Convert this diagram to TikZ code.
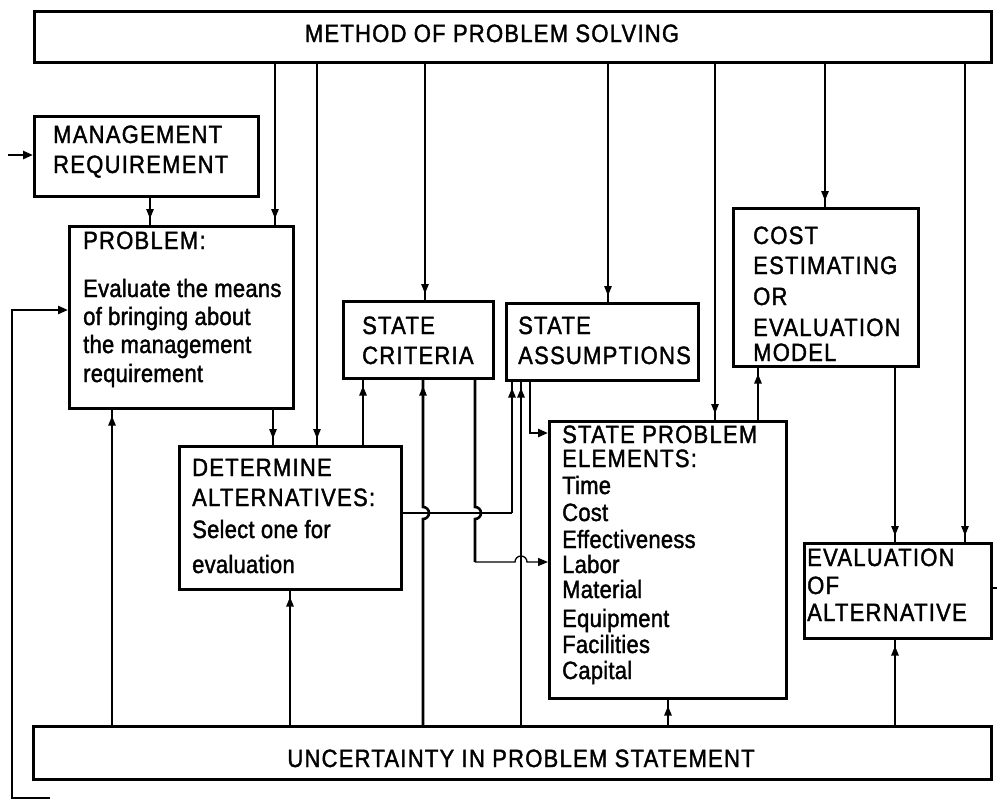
\documentclass[tikz,border=0pt]{standalone}
\usepackage{fontspec}
\setmainfont{Liberation Sans}[FakeStretch=0.88,LetterSpace=1,FakeBold=1.5]
\newfontfamily\capf{Liberation Sans}[FakeStretch=0.88,LetterSpace=5,FakeBold=1.5]
\usetikzlibrary{arrows.meta,decorations.markings,calc}
\tikzset{
  box/.style={draw, line width=2.6pt, inner sep=0pt, anchor=north west},
  lbl/.style={inner sep=0pt, anchor=base west, font=\fontsize{25}{28}\selectfont},
  capstxt/.style={inner sep=0pt, anchor=base west, font=\capf\fontsize{25}{28}\selectfont},
  ctrtxt/.style={inner sep=0pt, anchor=base, font=\capf\fontsize{25}{28}\selectfont},
  conn/.style={line width=2.6pt},
  thinconn/.style={line width=1.3pt},
  tip/.style={-{Triangle[length=10pt,width=8pt]}},
  nearend/.style={postaction={decorate},decoration={markings,mark=at position -6pt with {\arrow{Triangle[length=10pt,width=7pt]}}}},
}
\begin{document}
\begin{tikzpicture}[x=1pt,y=-1pt]
\useasboundingbox (0,0) rectangle (997,801);
% boxes
\node[box, minimum width=957pt, minimum height=51pt] (top) at (33,10) {};
\node[box, minimum width=224pt, minimum height=80pt] (mr) at (33,115) {};
\node[box, minimum width=224pt, minimum height=182pt] (prob) at (68,225) {};
\node[box, minimum width=150pt, minimum height=77pt] (crit) at (342,300) {};
\node[box, minimum width=192pt, minimum height=77pt] (assum) at (505,302) {};
\node[box, minimum width=185pt, minimum height=158pt] (cost) at (732,207) {};
\node[box, minimum width=222pt, minimum height=143pt] (da) at (178,445) {};
\node[box, minimum width=237pt, minimum height=277pt] (spe) at (548,420) {};
\node[box, minimum width=187pt, minimum height=95pt] (eval) at (803,542) {};
\node[box, minimum width=958pt, minimum height=53pt] (unc) at (32,725) {};
% texts
\node[ctrtxt] (toptxt) at (492,42) {METHOD OF PROBLEM SOLVING};
\node[ctrtxt] (unctxt) at (521,767) {UNCERTAINTY IN PROBLEM STATEMENT};
\node[capstxt] (mr1) at (53,143) {MANAGEMENT};
\node[capstxt] (mr2) at (53,173) {REQUIREMENT};
\node[capstxt] (pr1) at (83,249) {PROBLEM:};
\node[lbl] (pr2) at (83,297) {Evaluate the means};
\node[lbl] (pr3) at (83,325) {of bringing about};
\node[lbl] (pr4) at (83,353) {the management};
\node[lbl] (pr5) at (83,382) {requirement};
\node[capstxt] (cr1) at (362,334) {STATE};
\node[capstxt] (cr2) at (362,364) {CRITERIA};
\node[capstxt] (as1) at (518,334) {STATE};
\node[capstxt] (as2) at (518,364) {ASSUMPTIONS};
\node[capstxt] (co1) at (753,244) {COST};
\node[capstxt] (co2) at (753,274) {ESTIMATING};
\node[capstxt] (co3) at (753,305) {OR};
\node[capstxt] (co4) at (753,336) {EVALUATION};
\node[capstxt] (co5) at (753,361) {MODEL};
\node[capstxt] (da1) at (192,476) {DETERMINE};
\node[capstxt] (da2) at (192,506) {ALTERNATIVES:};
\node[lbl] (da3) at (192,538) {Select one for};
\node[lbl] (da4) at (192,573) {evaluation};
\node[capstxt] (sp1) at (562,443) {STATE PROBLEM};
\node[capstxt] (sp2) at (562,467) {ELEMENTS:};
\node[lbl] (sp3) at (562,494) {Time};
\node[lbl] (sp4) at (562,521) {Cost};
\node[lbl] (sp5) at (562,548) {Effectiveness};
\node[lbl] (sp6) at (562,573) {Labor};
\node[lbl] (sp7) at (562,598) {Material};
\node[lbl] (sp8) at (562,627) {Equipment};
\node[lbl] (sp9) at (562,653) {Facilities};
\node[lbl] (sp10) at (562,679) {Capital};
\node[capstxt] (ev1) at (807,566) {EVALUATION};
\node[capstxt] (ev2) at (807,594) {OF};
\node[capstxt] (ev3) at (807,621) {ALTERNATIVE};
% connectors from method box
\draw[conn,nearend] (275,0 |- top.south) -- (275,0 |- prob.north);
\draw[conn,nearend] (317,0 |- top.south) -- (317,0 |- da.north);
\draw[conn,nearend] (425,0 |- top.south) -- (425,0 |- crit.north);
\draw[conn,nearend] (608,0 |- top.south) -- (608,0 |- assum.north);
\draw[conn,nearend] (715,0 |- top.south) -- (715,0 |- spe.north);
\draw[conn,nearend] (825,0 |- top.south) -- (825,0 |- cost.north);
\draw[conn,nearend] (965,0 |- top.south) -- (965,0 |- eval.north);
% chain
\draw[conn,nearend] (150,0 |- mr.south) -- (150,0 |- prob.north);
\draw[conn,nearend] (273,0 |- prob.south) -- (273,0 |- da.north);
\draw[conn,nearend] (363,0 |- da.north) -- (363,0 |- crit.south);
\draw[conn,nearend] (758,0 |- spe.north) -- (758,0 |- cost.south);
\draw[conn,nearend] (895,0 |- cost.south) -- (895,0 |- eval.north);
% from uncertainty box
\draw[conn,nearend] (112,0 |- unc.north) -- (112,0 |- prob.south);
\draw[conn,nearend] (290,0 |- unc.north) -- (290,0 |- da.south);
\draw[conn,nearend] (423,0 |- unc.north) -- (423,519) arc[start angle=90,end angle=-90,radius=6] -- (423,0 |- crit.south);
\draw[conn,nearend] (521,0 |- unc.north) -- (521,0 |- assum.south);
\draw[conn,nearend] (668,0 |- unc.north) -- (668,0 |- spe.south);
\draw[conn,nearend] (895,0 |- unc.north) -- (895,0 |- eval.south);
% determine alternatives -> state assumptions
\coordinate (j1) at (512,513);
\draw[thinconn] (da.east |- j1) -- (j1);
\draw[conn,nearend] (j1) -- (j1 |- assum.south);
% state criteria -> state problem elements
\coordinate (j2) at (475,562);
\draw[conn] (j2 |- crit.south) -- (475,507) arc[start angle=-90,end angle=90,radius=6] -- (j2);
\draw[thinconn,tip] (j2) -- (515,562) arc[start angle=180,end angle=360,radius=6] -- (spe.west |- j2);
% state assumptions -> state problem elements
\coordinate (j3) at (530,433);
\draw[conn,tip] (j3 |- assum.south) -- (j3) -- (spe.west |- j3);
% input to management requirement
\coordinate (inL) at (8,155);
\draw[conn,tip] (inL) -- (mr.west |- inL);
% feedback loop
\coordinate (fb0) at (50,798);
\coordinate (fb1) at (12,310);
\draw[conn,tip] (fb0) -- (12,798) -- (fb1) -- (prob.west |- fb1);
% stub from evaluation
\coordinate (evR) at (997,588);
\draw[conn] (eval.east |- evR) -- (evR);
\end{tikzpicture}
\end{document}
